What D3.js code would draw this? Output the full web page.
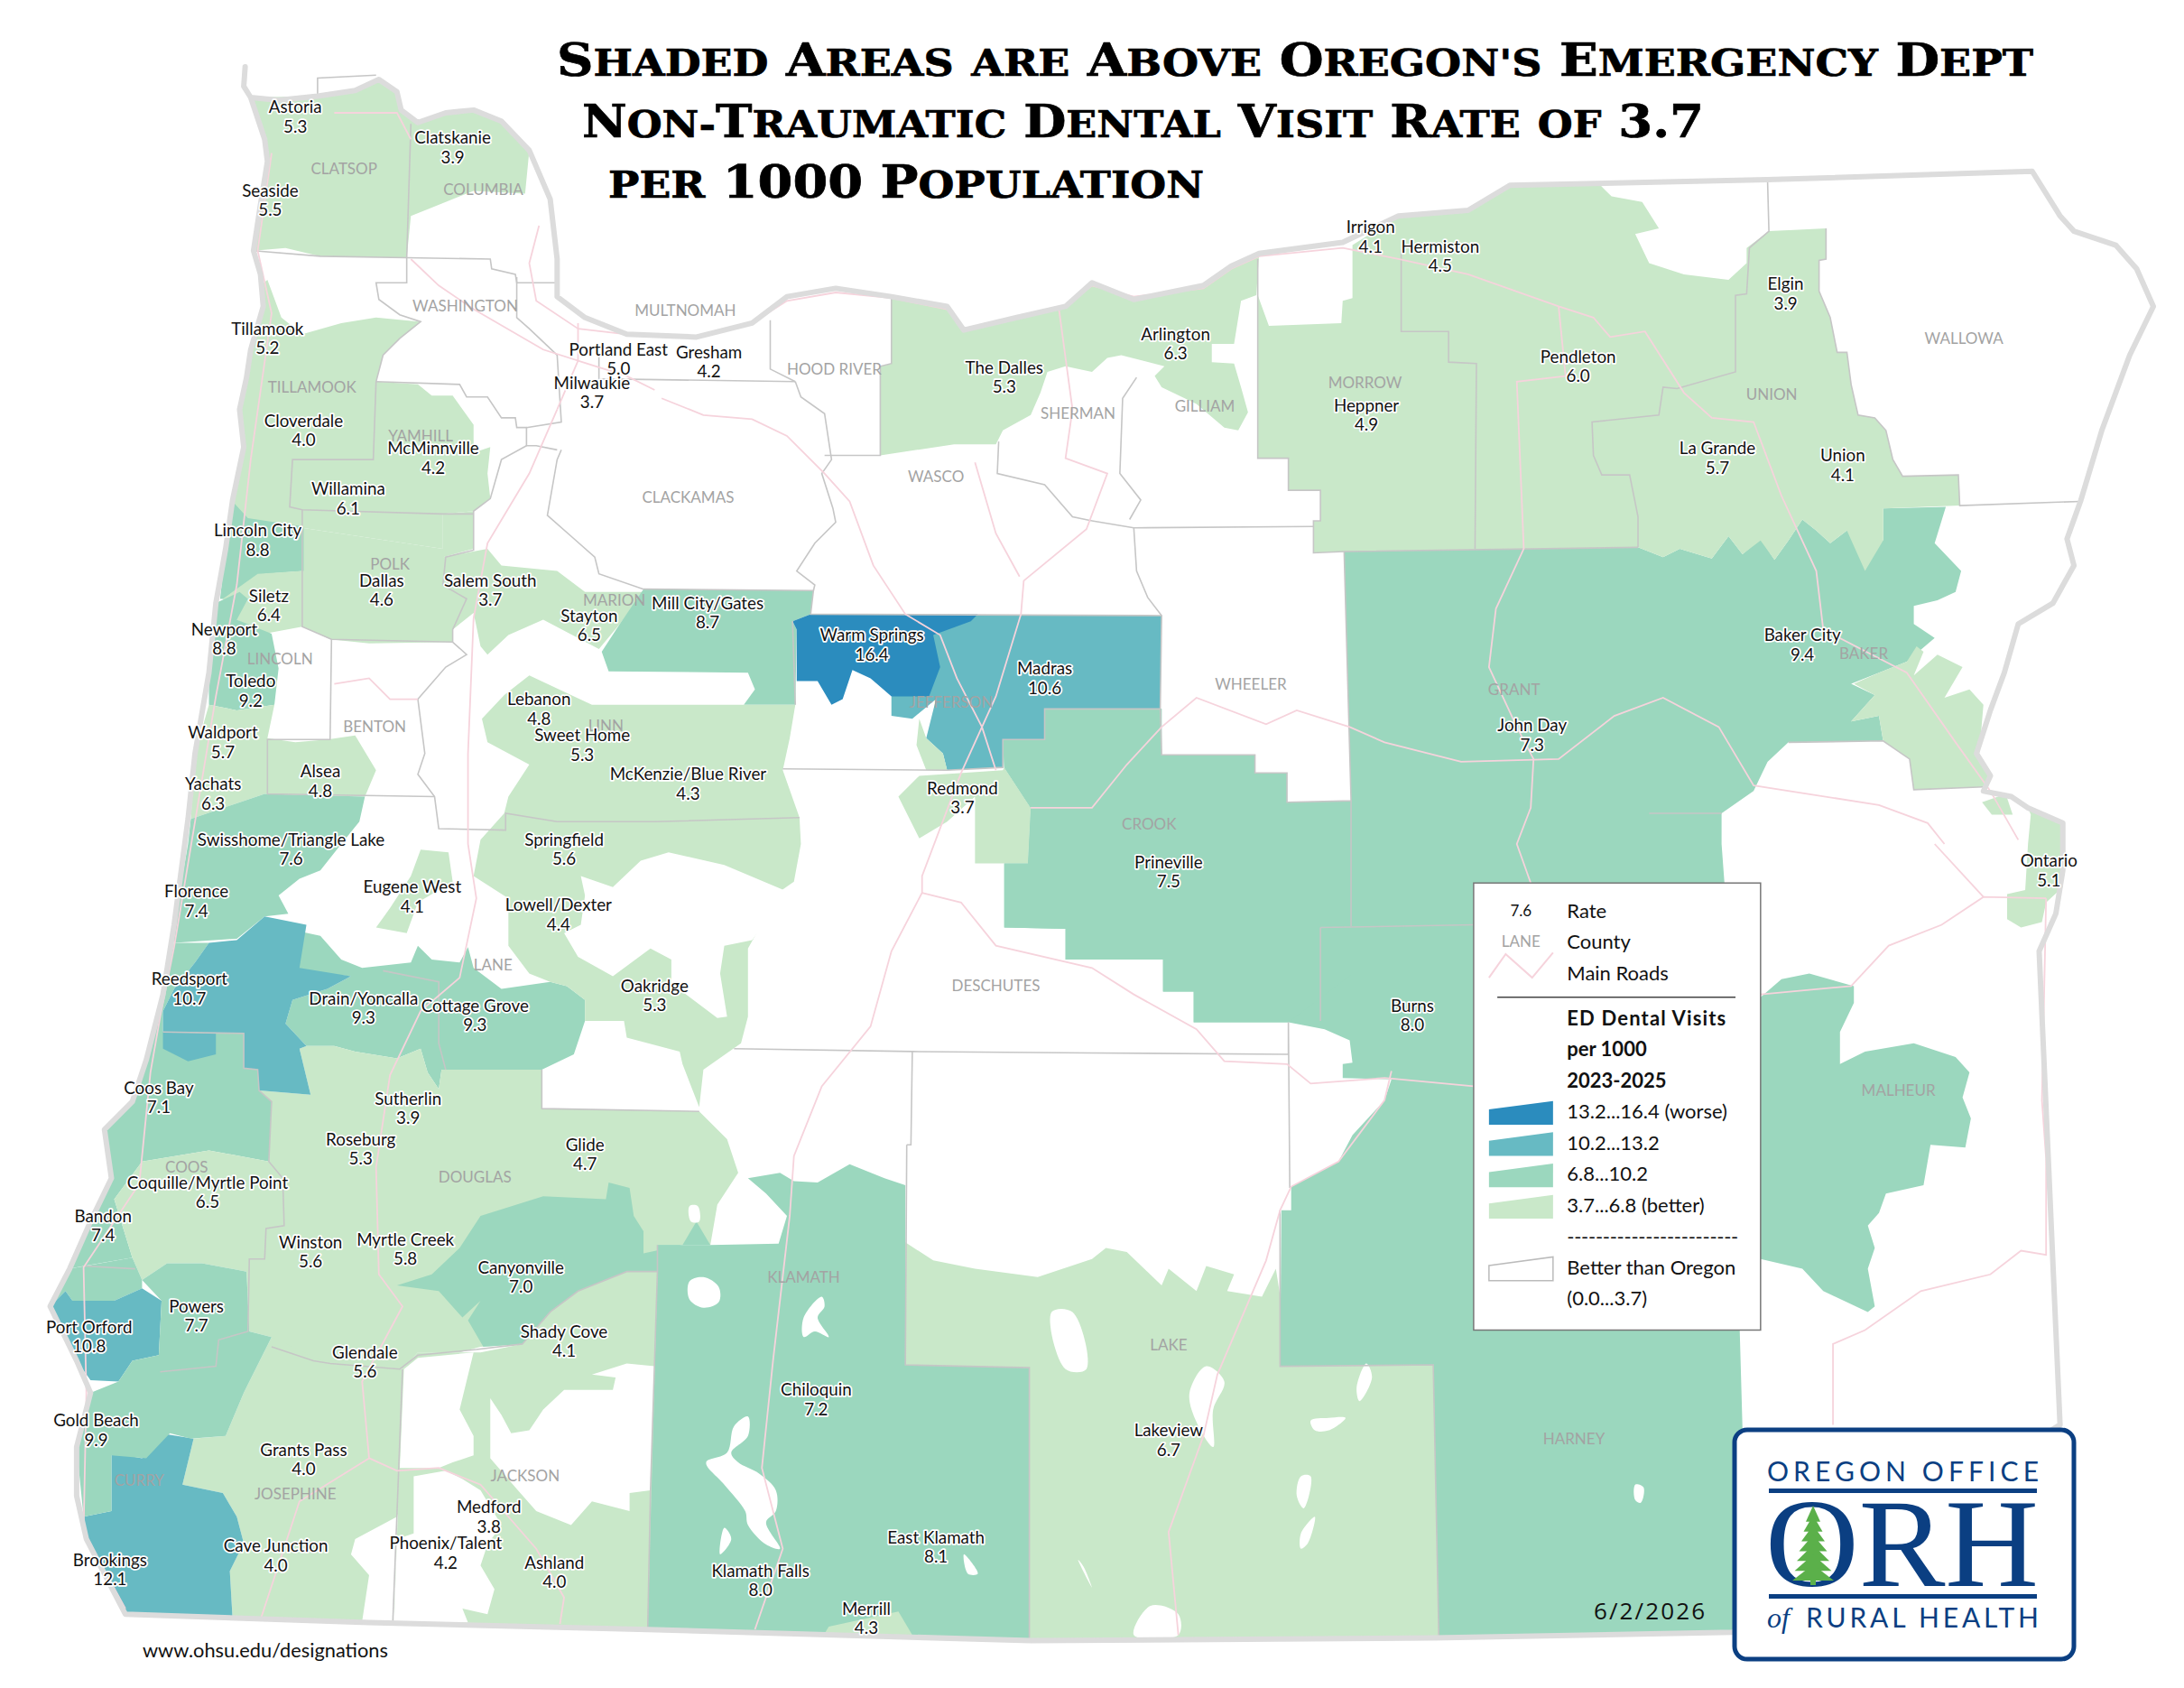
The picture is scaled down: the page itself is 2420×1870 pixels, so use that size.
<!DOCTYPE html>
<html>
<head>
<meta charset="utf-8">
<script src="https://cdn.jsdelivr.net/npm/d3@7"></script>
<style>
body { margin: 0; background: #fff; }
text { font-family: Lato, "Open Sans", sans-serif; }
</style>
</head>
<body>
<svg id="map" width="2420" height="1870"></svg>
<script>
// map units: the sheet is 1568 x 1212 units
var titleLines = ["Shaded Areas are Above Oregon's Emergency Dept", "Non-Traumatic Dental Visit Rate of 3.7", "per 1000 Population"];

var townNames = ["Astoria","Clatskanie","Seaside","Tillamook","Portland East","Gresham","Milwaukie","The Dalles","Arlington","Irrigon","Hermiston","Elgin","Pendleton","Heppner","La Grande","Union","Baker City","John Day","Cloverdale","McMinnville","Willamina","Lincoln City","Siletz","Newport","Dallas","Salem South","Stayton","Mill City/Gates","Warm Springs","Madras","Toledo","Lebanon","Sweet Home","Waldport","Alsea","McKenzie/Blue River","Yachats","Redmond","Springfield","Swisshome/Triangle Lake","Prineville","Eugene West","Florence","Lowell/Dexter","Oakridge","Reedsport","Drain/Yoncalla","Cottage Grove","Burns","Coos Bay","Sutherlin","Roseburg","Glide","Coquille/Myrtle Point","Bandon","Winston","Myrtle Creek","Canyonville","Powers","Port Orford","Shady Cove","Glendale","Chiloquin","Gold Beach","Grants Pass","Lakeview","Medford","East Klamath","Cave Junction","Phoenix/Talent","Brookings","Ashland","Klamath Falls","Merrill","Ontario"];
var townRates = ["5.3","3.9","5.5","5.2","5.0","4.2","3.7","5.3","6.3","4.1","4.5","3.9","6.0","4.9","5.7","4.1","9.4","7.3","4.0","4.2","6.1","8.8","6.4","8.8","4.6","3.7","6.5","8.7","16.4","10.6","9.2","4.8","5.3","5.7","4.8","4.3","6.3","3.7","5.6","7.6","7.5","4.1","7.4","4.4","5.3","10.7","9.3","9.3","8.0","7.1","3.9","5.3","4.7","6.5","7.4","5.6","5.8","7.0","7.7","10.8","4.1","5.6","7.2","9.9","4.0","6.7","3.8","8.1","4.0","4.2","12.1","4.0","8.0","4.3","5.1"];
var townSpots = [[212,77],[325,99],[194,137],[192,236],[444,251],[509,253],[425,275],[721,264],[844,240],[984,163],[1034,177],[1282,204],[1133,256],[981,291],[1233,322],[1323,327],[1294,456],[1100,521],[218,302],[311,322],[250,351],[185,381],[193,428],[161,452],[274,417],[352,417],[423,442],[508,433],[626,456],[750,480],[180,489],[387,502],[418,528],[160,526],[230,554],[494,556],[153,563],[691,566],[405,603],[209,603],[839,619],[296,637],[141,640],[401,650],[470,708],[136,703],[261,717],[341,722],[1014,722],[114,781],[293,789],[259,818],[420,822],[149,849],[74,873],[223,892],[291,890],[374,910],[141,938],[64,953],[405,956],[262,971],[586,998],[69,1020],[218,1041],[839,1027],[351,1082],[672,1104],[198,1110],[320,1108],[79,1120],[398,1122],[546,1128],[622,1155],[1471,618]];

var countyNames = ["CLATSOP","COLUMBIA","WASHINGTON","MULTNOMAH","HOOD RIVER","TILLAMOOK","YAMHILL","CLACKAMAS","WASCO","SHERMAN","GILLIAM","MORROW","UNION","WALLOWA","POLK","MARION","LINCOLN","BENTON","LINN","JEFFERSON","WHEELER","GRANT","BAKER","CROOK","LANE","DESCHUTES","DOUGLAS","COOS","KLAMATH","CURRY","JOSEPHINE","JACKSON","LAKE","HARNEY","MALHEUR"];
var countySpots = [[247,121],[347,136],[334,220],[492,223],[599,265],[224,278],[302,313],[494,357],[672,342],[774,297],[865,292],[980,275],[1272,283],[1410,243],[280,405],[441,431],[201,473],[269,522],[435,521],[683,504],[898,491],[1087,495],[1338,469],[825,592],[354,693],[715,708],[341,845],[134,838],[577,917],[100,1063],[212,1073],[377,1060],[839,966],[1130,1033],[1363,783]];

var legendBreaks = [3.7, 6.8, 10.2, 13.2];
var legendLabels = ["13.2...16.4 (worse)", "10.2...13.2", "6.8...10.2", "3.7...6.8 (better)"];
var legendRates = [16.4, 12.1, 8.8, 5.3];

var stateOutline = [[176,48],[175,62],[180,70],[190,100],[192,116],[187,147],[182,180],[187,197],[189,220],[180,251],[177,271],[172,294],[175,321],[167,359],[162,394],[155,433],[150,483],[140,541],[135,588],[125,664],[117,714],[105,761],[95,791],[75,811],[80,846],[65,877],[50,911],[36,938],[55,977],[65,1000],[55,1039],[55,1074],[62,1105],[90,1159],[265,1165],[465,1170],[740,1178],[1029,1176],[1244,1172],[1479,1023],[1464,683],[1476,656],[1481,625],[1481,591],[1456,580],[1444,572],[1424,568],[1429,557],[1419,541],[1429,510],[1439,483],[1449,448],[1474,433],[1489,406],[1484,387],[1494,359],[1509,309],[1529,255],[1546,220],[1534,193],[1519,176],[1489,166],[1479,155],[1459,123],[1269,129],[1084,133],[1054,151],[1004,155],[964,174],[904,182],[884,191],[864,205],[814,215],[784,203],[765,220],[730,228],[692,237],[680,220],[640,213],[600,207],[565,213],[540,232],[500,242],[450,240],[420,228],[400,213],[400,186],[395,143],[380,108],[360,87],[340,79],[320,81],[300,88],[288,79],[285,66],[272,57],[255,65],[228,69],[200,72],[180,70],[175,62]];

// one ring per shaded zone, the rate sets the colour
var zoneRates = [5.3,5.2,5.2,8.8,6.4,8.8,5.7,7.6,7.1,9.3,6.5,5.6,7.0,4.0,4.1,7.2,4.3,6.7,8.0,5.3,5.7,5.1,5.1,4.8,8.7,10.6,4.1,4.1,7.5,4.1,16.4,10.7,10.7,7.4,10.8,12.1,7.7];
var zoneRings = [
  [[180,70],[190,100],[192,116],[187,147],[182,180],[205,178],[230,184],[292,185],[295,155],[310,149],[340,137],[377,139],[380,108],[360,87],[340,79],[320,81],[300,88],[288,79],[285,66],[272,57],[255,65],[228,69]],
  [[192,201],[202,228],[217,240],[245,232],[270,228],[302,231],[287,243],[275,255],[270,274],[300,276],[310,284],[325,284],[340,305],[340,325],[352,321],[350,340],[352,358],[340,367],[318,369],[318,394],[217,379],[165,371],[167,359],[175,321],[172,294],[177,271],[180,251],[189,220],[187,205]],
  [[318,369],[340,367],[340,394],[318,400],[350,394],[360,406],[400,410],[420,425],[462,425],[445,448],[430,466],[390,445],[365,456],[350,470],[345,464],[340,440],[325,452],[325,461],[265,462],[237,459],[217,450],[217,379],[318,394]],
  [[167,360],[178,372],[218,378],[218,410],[190,412],[185,430],[158,430],[162,394]],
  [[185,412],[217,410],[217,450],[190,455],[170,445],[160,430]],
  [[155,433],[172,425],[178,430],[170,445],[195,455],[200,480],[197,506],[170,510],[150,506],[150,483]],
  [[150,506],[170,510],[197,506],[192,530],[212,533],[235,531],[255,528],[270,553],[262,572],[190,570],[137,588],[140,541]],
  [[137,588],[190,570],[262,572],[258,590],[245,606],[230,625],[215,631],[200,643],[207,656],[190,658],[170,674],[125,677],[125,664],[135,606]],
  [[125,677],[150,677],[140,691],[125,710],[117,726],[117,741],[175,742],[175,767],[185,768],[186,783],[195,791],[193,834],[150,826],[102,834],[82,861],[95,903],[60,909],[50,911],[65,877],[80,846],[75,811],[95,791],[105,761],[117,714]],
  [[212,668],[230,672],[245,689],[260,695],[295,691],[300,679],[310,689],[330,691],[336,680],[340,695],[360,710],[395,705],[407,708],[420,718],[420,733],[412,757],[389,768],[317,768],[315,782],[307,770],[302,753],[285,760],[255,755],[240,751],[220,751],[205,735],[210,718],[235,710],[252,701],[215,697]],
  [[223,786],[215,753],[220,751],[240,751],[255,755],[285,760],[302,753],[307,770],[315,782],[317,768],[389,768],[389,796],[502,798],[522,818],[530,842],[515,865],[510,894],[472,894],[472,913],[450,913],[415,927],[395,942],[375,965],[345,967],[330,971],[300,971],[289,983],[235,979],[195,967],[195,960],[179,956],[177,913],[145,907],[120,907],[102,919],[95,903],[82,861],[102,834],[150,826],[193,834],[195,791],[186,783]],
  [[195,960],[235,979],[289,983],[287,1054],[295,1056],[285,1089],[255,1105],[252,1116],[265,1131],[260,1164],[167,1163],[165,1128],[175,1108],[170,1089],[160,1072],[131,1066],[139,1033],[162,1031],[175,1000]],
  [[285,923],[310,915],[330,896],[345,873],[390,859],[435,861],[437,849],[452,853],[455,873],[462,884],[462,900],[490,894],[500,877],[510,894],[472,894],[472,913],[450,913],[415,927],[395,942],[375,965],[347,967],[336,948],[345,934],[332,946],[315,927]],
  [[289,983],[300,971],[345,971],[375,965],[395,942],[415,927],[450,913],[472,913],[466,1170],[283,1165]],
  [[302,610],[322,612],[325,633],[300,648],[292,670],[270,666],[280,652],[295,629]],
  [[472,894],[510,894],[559,893],[565,873],[550,857],[537,846],[560,842],[570,848],[587,849],[610,836],[635,846],[650,851],[650,980],[739,982],[739,1177],[465,1170],[472,913]],
  [[592,1173],[595,1168],[645,1157],[655,1174]],
  [[650,892],[670,905],[700,911],[745,917],[784,904],[794,896],[809,899],[834,923],[839,911],[859,927],[866,909],[886,915],[881,927],[906,931],[916,911],[920,936],[919,981],[1029,980],[1033,1175],[784,1177],[739,1177],[739,982],[650,980]],
  [[965,396],[1176,393],[1194,400],[1206,394],[1229,401],[1241,385],[1251,398],[1264,387],[1274,402],[1284,388],[1294,373],[1304,381],[1314,390],[1326,381],[1352,388],[1352,365],[1397,364],[1389,390],[1408,410],[1404,425],[1391,431],[1374,435],[1374,448],[1389,458],[1369,475],[1349,483],[1329,491],[1346,499],[1329,518],[1349,514],[1352,532],[1284,533],[1269,547],[1259,568],[1236,584],[1236,606],[1238,633],[1238,700],[1264,716],[1279,703],[1299,699],[1331,708],[1331,720],[1321,741],[1321,764],[1339,755],[1374,749],[1404,759],[1414,770],[1409,788],[1415,803],[1411,824],[1386,822],[1381,851],[1354,857],[1349,871],[1341,880],[1346,896],[1341,911],[1346,938],[1341,942],[1309,927],[1294,911],[1264,904],[1249,954],[1251,1025],[1244,1172],[1033,1175],[1029,980],[919,981],[920,869],[927,869],[927,852],[961,834],[971,815],[994,790],[999,775],[964,774],[964,764],[971,763],[969,747],[951,739],[925,734],[857,734],[857,712],[835,712],[835,689],[765,689],[765,667],[721,666],[721,620],[738,620],[740,580],[721,551],[720,531],[750,531],[750,509],[834,509],[834,542],[901,542],[901,555],[924,555],[924,576],[970,575]],
  [[640,213],[680,220],[692,237],[730,228],[765,220],[784,203],[814,215],[864,205],[884,191],[904,182],[902,212],[891,216],[886,247],[870,247],[870,260],[886,261],[891,278],[896,296],[889,309],[879,307],[859,290],[834,278],[829,270],[836,263],[805,255],[795,257],[784,267],[765,263],[752,267],[747,282],[740,298],[720,309],[715,319],[685,319],[632,327],[632,263],[640,261]],
  [[903,212],[911,234],[963,232],[964,216],[971,214],[971,176],[1004,155],[1054,151],[1084,133],[1149,133],[1157,141],[1179,145],[1191,164],[1174,168],[1184,189],[1209,197],[1241,201],[1254,189],[1254,178],[1270,166],[1311,164],[1311,186],[1306,187],[1306,209],[1314,228],[1319,253],[1326,253],[1329,276],[1334,298],[1346,300],[1354,309],[1359,330],[1366,342],[1406,341],[1407,363],[1352,365],[1352,388],[1339,410],[1326,381],[1314,390],[1304,381],[1294,373],[1284,388],[1274,402],[1264,388],[1251,398],[1241,385],[1229,401],[1206,394],[1194,400],[1176,393],[965,396],[943,397],[943,374],[948,374],[948,352],[925,352],[925,329],[903,329]],
  [[1456,580],[1481,591],[1481,637],[1469,648],[1466,662],[1451,666],[1441,660],[1441,642],[1454,639],[1456,606],[1458,585]],
  [[1423,576],[1440,570],[1445,585],[1430,585]],
  [[1331,491],[1349,483],[1369,475],[1376,464],[1381,468],[1374,485],[1391,470],[1409,479],[1396,501],[1414,495],[1424,506],[1421,541],[1429,557],[1424,565],[1374,567],[1371,545],[1352,532],[1349,514],[1329,518],[1346,499]],
  [[462,423],[584,424],[582,441],[569,446],[572,452],[571,506],[534,506],[542,495],[537,483],[437,482],[432,468],[445,448]],
  [[582,441],[834,442],[833,509],[750,509],[750,531],[720,531],[720,551],[680,553],[677,541],[665,530],[672,502],[655,516],[640,514],[640,500],[672,480]],
  [[660,516],[665,530],[677,541],[680,553],[665,553],[658,535]],
  [[645,572],[660,557],[720,553],[721,551],[740,580],[738,620],[700,620],[700,572],[680,590],[660,602]],
  [[721,551],[740,580],[738,620],[721,620],[721,666],[765,667],[765,689],[835,689],[835,712],[857,712],[857,734],[925,734],[970,700],[970,575],[924,576],[924,555],[901,555],[901,542],[834,542],[834,509],[750,509],[750,531],[720,531]],
  [[346,516],[362,499],[380,485],[410,499],[425,506],[571,506],[567,530],[562,553],[574,587],[575,606],[570,633],[560,640],[537,681],[537,730],[532,749],[505,768],[502,795],[490,764],[488,755],[450,745],[448,733],[420,733],[420,718],[407,708],[395,705],[380,699],[365,679],[365,645],[340,629],[345,603],[362,584],[365,572],[380,549],[350,533]],
  [[582,441],[702,441],[697,446],[670,456],[675,479],[667,500],[640,500],[625,487],[612,481],[605,502],[597,506],[587,489],[572,489],[572,452],[569,446]],
  [[190,658],[220,664],[215,695],[252,701],[235,710],[210,718],[205,735],[220,751],[215,753],[223,786],[186,783],[185,768],[175,767],[175,742],[117,741],[117,726],[125,710],[140,691],[150,677],[170,675]],
  [[117,741],[155,742],[155,757],[135,762],[117,753]],
  [[50,911],[95,903],[102,919],[102,925],[82,934],[52,934],[47,927],[36,938]],
  [[36,938],[47,927],[52,934],[82,934],[102,925],[116,934],[114,973],[95,977],[85,992],[65,991],[55,977]],
  [[80,1043],[102,1047],[115,1029],[139,1033],[131,1066],[160,1072],[170,1089],[175,1108],[165,1128],[167,1163],[90,1159],[62,1105],[60,1089],[80,1085]],
  [[102,919],[120,907],[145,907],[177,913],[179,956],[195,960],[175,1000],[162,1031],[137,1033],[122,1029],[105,1047],[80,1045],[80,1085],[60,1089],[55,1039],[65,1000],[85,992],[95,977],[114,973],[116,934]]
];

// unshaded pockets cut out of the zones
var holeRings = [
  [[352,1004],[360,1016],[367,1029],[380,1027],[390,1012],[405,998],[440,998],[442,989],[425,987],[450,979],[470,981],[467,1070],[452,1072],[452,1085],[425,1078],[410,1095],[385,1085],[370,1068],[352,1047]],
  [[290,983],[300,975],[340,971],[330,1012],[340,1031],[340,1045],[325,1050],[315,1054],[300,1054],[287,1054]],
  [[297,1060],[320,1056],[332,1062],[345,1070],[360,1095],[350,1109],[345,1124],[355,1141],[350,1159],[332,1155],[336,1165],[283,1165],[285,1105],[297,1101]],
  [[417,629],[420,643],[417,664],[405,670],[415,687],[440,701],[467,681],[482,689],[482,706],[515,731],[522,730],[517,699],[520,679],[540,675],[565,640],[520,621],[480,612],[460,618],[440,637]]
];
var lakeRings = [
  [[495,920],[505,917],[516,924],[516,935],[505,939],[495,933]],
  [[590,931],[592,938],[587,946],[595,960],[585,956],[577,960],[577,946]],
  [[537,1017],[537,1031],[525,1043],[530,1050],[545,1058],[557,1070],[557,1085],[550,1093],[560,1112],[550,1109],[537,1095],[535,1085],[520,1066],[507,1050],[522,1043],[527,1024]],
  [[520,1097],[525,1105],[517,1116]],
  [[692,1116],[702,1130],[695,1130]],
  [[755,942],[770,942],[780,983],[765,983]],
  [[866,981],[879,992],[871,1012],[871,1039],[859,1021],[854,1000]],
  [[981,979],[985,989],[976,1006],[974,996]],
  [[941,1020],[954,1018],[966,1018],[954,1027],[944,1027]],
  [[934,1060],[941,1060],[936,1083],[931,1074]],
  [[944,1089],[939,1108],[934,1112],[934,1101]],
  [[814,1174],[826,1153],[846,1159],[846,1174]],
  [[1174,1066],[1180,1068],[1178,1079],[1174,1077]],
  [[774,1120],[784,1140],[778,1125]],
  [[495,866],[501,866],[502,877],[496,877]]
];

var countyLines = [
  [[228,69],[228,56],[270,54]],
  [[295,89],[292,185]],
  [[182,180],[230,184],[292,185],[352,186],[353,193],[370,197],[371,203],[400,203]],
  [[292,185],[292,203],[270,203],[272,215],[287,226],[302,231],[287,243],[275,255],[270,274],[268,330],[210,330],[208,364],[217,366],[318,369],[340,369]],
  [[270,274],[330,276],[335,285],[350,285],[360,300],[370,300],[371,307],[378,307],[378,320],[385,320],[400,323]],
  [[371,199],[371,228],[380,236],[400,255],[403,303],[378,307]],
  [[217,366],[217,450],[238,459],[325,461]],
  [[238,459],[237,531],[192,531],[192,570],[312,572]],
  [[430,256],[430,272],[571,274]],
  [[553,230],[553,265],[571,274]],
  [[640,214],[640,261],[632,263],[632,327],[592,327]],
  [[571,274],[575,285],[592,297],[597,330],[590,340],[598,365],[600,375],[585,390],[572,410],[585,420],[584,424]],
  [[403,323],[400,330],[393,370],[410,385],[427,400],[430,412],[462,423],[584,424],[582,441],[834,442]],
  [[378,320],[360,330],[352,358],[340,367],[340,395],[320,400],[318,420],[335,430],[325,452],[325,461],[335,470],[320,479],[300,502],[305,541],[300,556],[312,572],[315,595],[363,596],[363,584],[400,590],[470,590],[574,587]],
  [[562,552],[680,553],[720,551],[720,531],[750,531],[750,509],[833,509]],
  [[571,506],[569,446]],
  [[275,697],[315,705],[315,749],[320,768]],
  [[117,741],[175,742],[175,767],[185,768],[186,783],[195,791],[193,834],[203,846],[204,880],[191,882],[190,904],[179,904],[178,956],[157,962],[155,981],[115,985]],
  [[60,909],[97,911]],
  [[195,967],[225,977],[237,979],[287,983],[300,973],[342,969],[375,965],[395,942],[415,927],[450,913],[472,913]],
  [[472,894],[472,913],[467,1070],[465,1170]],
  [[289,983],[282,1165]],
  [[651,822],[650,980],[739,982],[739,1177]],
  [[527,753],[655,755],[784,756],[925,757],[925,734],[926,853]],
  [[655,755],[654,822],[651,822]],
  [[389,768],[389,796],[502,798]],
  [[784,374],[814,379],[943,378]],
  [[814,379],[816,410],[824,429],[834,442],[833,509],[834,542],[901,542],[901,555],[924,555],[924,576],[970,575],[965,396]],
  [[816,271],[806,286],[804,340],[819,359],[811,373]],
  [[717,317],[716,340],[750,348],[770,371],[784,374]],
  [[903,186],[903,329],[925,329],[925,352],[948,352],[948,374],[943,374],[943,397],[965,396],[1176,393]],
  [[1006,179],[1006,238],[1040,238],[1040,260],[1060,261],[1059,394]],
  [[1269,129],[1270,166],[1256,178],[1254,211],[1246,212],[1246,267],[1204,279],[1194,278],[1191,298],[1143,303],[1144,327],[1150,341],[1170,341],[1176,371],[1176,393]],
  [[1311,164],[1311,186],[1306,187],[1306,209],[1314,228],[1319,253],[1326,253],[1329,276],[1334,298],[1346,300],[1354,309],[1359,330],[1366,342],[1406,341],[1407,363],[1494,360]],
  [[1284,533],[1352,532],[1371,545],[1374,567],[1424,565]],
  [[948,666],[1058,664]],
  [[948,666],[948,733]],
  [[970,575],[970,665]],
  [[1184,584],[1236,584]],
  [[919,869],[919,981],[1029,980],[1033,1175]]
];

var roadLines = [
  [[195,110],[185,180],[195,225],[180,330],[170,420],[155,500],[140,590],[125,680],[115,730],[108,770],[100,850],[60,910],[62,1000],[60,1100],[90,1155]],
  [[400,294],[380,340],[350,390],[340,444],[336,541],[336,606],[342,645],[330,702],[302,726],[280,772],[270,838],[272,915],[289,938],[260,992],[265,1047],[285,1056],[315,1054],[345,1066],[385,1112],[405,1147],[402,1166]],
  [[240,81],[285,81],[295,100]],
  [[295,186],[315,205],[340,222],[390,251],[415,259],[415,232]],
  [[387,162],[380,189],[385,216],[415,236]],
  [[400,294],[415,259],[450,270],[470,280]],
  [[415,236],[450,240],[500,242],[540,232],[565,216],[600,210],[640,214],[680,222],[692,236],[730,228],[765,220],[784,205],[814,213],[864,207],[884,193],[904,184],[964,178],[1004,186],[1054,197],[1119,220],[1144,228],[1156,242],[1181,238],[1209,282],[1229,300],[1259,303],[1279,356],[1304,410],[1309,452],[1369,483],[1404,533],[1429,568],[1449,603]],
  [[475,286],[505,298],[540,301],[565,313],[592,340],[610,360],[627,406],[650,441],[675,456],[687,487],[705,522],[715,553]],
  [[760,220],[770,294],[765,329],[795,340],[780,380],[735,417],[733,441],[715,500],[690,555],[662,629],[662,641],[640,683],[625,737],[590,780],[570,830],[567,873],[555,977],[547,1054],[562,1112],[542,1170]],
  [[662,641],[690,648],[715,679],[784,695],[814,714],[859,739],[879,762],[924,764],[941,778],[994,774],[1058,780]],
  [[1264,714],[1329,708],[1356,679],[1394,664],[1424,644],[1469,645]],
  [[1389,606],[1424,644]],
  [[740,580],[784,580],[809,549],[834,522],[859,501],[909,520],[931,510],[969,522],[994,533],[1049,547],[1119,545],[1159,514],[1194,501],[1234,522],[1259,564],[1349,578],[1384,591],[1396,606]],
  [[1124,270],[1119,220]],
  [[1124,270],[1089,274],[1094,394],[1074,437],[1069,479],[1089,522],[1101,545],[1099,580],[1089,606],[1099,634]],
  [[999,769],[994,790],[961,834],[927,852],[919,869],[909,905],[874,987],[864,1031],[839,1100],[846,1174]],
  [[1316,1023],[1316,965],[1339,955],[1379,927],[1429,915],[1451,898],[1469,901],[1469,832],[1466,790]],
  [[1469,645],[1466,790]],
  [[265,1047],[215,1078],[187,1163]],
  [[700,332],[715,383],[732,414]],
  [[240,491],[265,487],[280,502],[300,502]]
];

var legendGeomSwatch = [[0,0.36],[1,0],[1,1],[0,1]];
var sx = d3.scaleLinear().domain([0,1568]).range([0,2420]);
var sy = d3.scaleLinear().domain([0,1212]).range([0,1870]);
var fillFor = d3.scaleThreshold().domain(legendBreaks).range(["#ffffff","#c9e8c9","#9bd7be","#67bac3","#2b8cbe"]);
var ringPath = d3.line().x(function(d){ return sx(d[0]); }).y(function(d){ return sy(d[1]); }).curve(d3.curveLinearClosed);
var softRing = d3.line().x(function(d){ return sx(d[0]); }).y(function(d){ return sy(d[1]); }).curve(d3.curveCatmullRomClosed.alpha(0.5));
var linePath = d3.line().x(function(d){ return sx(d[0]); }).y(function(d){ return sy(d[1]); });
var svg = d3.select("#map");

// title
function drawTitle(line, x, y, width){
  var t = svg.append("text").attr("x", x).attr("y", y).attr("textLength", width).attr("lengthAdjust", "spacingAndGlyphs")
    .style("font-family", "'DejaVu Serif'").style("font-weight", "bold").attr("fill", "#000").attr("stroke", "#000").attr("stroke-width", 0.7);
  var runs = line.match(/[a-z'\-]+|[^a-z'\-]+/g);
  runs.forEach(function(r){
    var small = /[a-z]/.test(r);
    t.append("tspan").text(r).style("font-size", small ? "41px" : "50px").style("text-transform", small ? "uppercase" : "none");
  });
}
drawTitle(titleLines[0], 617, 84, 1636);
drawTitle(titleLines[1], 645, 152, 1243);
drawTitle(titleLines[2], 674, 219, 660);

// zones, pockets, lines
svg.append("g").selectAll("path").data(zoneRings).join("path")
  .attr("d", ringPath).attr("fill", function(d,i){ return fillFor(zoneRates[i]); });
svg.append("g").selectAll("path").data(holeRings).join("path")
  .attr("d", ringPath).attr("fill", "#fff");
svg.append("g").selectAll("path").data(lakeRings).join("path")
  .attr("d", softRing).attr("fill", "#fff");
svg.append("g").selectAll("path").data(countyLines).join("path")
  .attr("d", linePath).attr("fill", "none").attr("stroke", "#c6c6c6").attr("stroke-width", 1.6);
svg.append("g").selectAll("path").data(roadLines).join("path")
  .attr("d", linePath).attr("fill", "none").attr("stroke", "#f6d3dc").attr("stroke-width", 1.8);
svg.append("path").datum(stateOutline).attr("d", ringPath).attr("fill", "none").attr("stroke", "#dcdcdc").attr("stroke-width", 6).attr("stroke-linejoin", "round");

// labels
function halo(sel){
  sel.attr("paint-order", "stroke").attr("stroke", "#fff").attr("stroke-width", 3.5).attr("stroke-linejoin", "round");
}
svg.append("g").selectAll("text").data(countyNames).join("text")
  .text(function(d){ return d; })
  .attr("x", function(d,i){ return sx(countySpots[i][0]); })
  .attr("y", function(d,i){ return sy(countySpots[i][1]); })
  .attr("dy", "0.35em").attr("text-anchor", "middle").attr("fill", "#a3a3a3").style("font-size", "17px");
var townG = svg.append("g").selectAll("g").data(townNames).join("g");
townG.append("text").text(function(d){ return d; })
  .attr("x", function(d,i){ return sx(townSpots[i][0]); })
  .attr("y", function(d,i){ return sy(townSpots[i][1]); })
  .attr("dy", "0.35em").attr("text-anchor", "middle").attr("fill", "#111").style("font-size", "18.8px").call(halo);
townG.append("text").text(function(d,i){ return townRates[i]; })
  .attr("x", function(d,i){ return sx(townSpots[i][0]); })
  .attr("y", function(d,i){ return sy(townSpots[i][1]) + 21.5; })
  .attr("dy", "0.35em").attr("text-anchor", "middle").attr("fill", "#111").style("font-size", "18.8px").call(halo);

// legend
var lg = svg.append("g");
lg.append("rect").attr("x", sx(1058)).attr("y", sy(634)).attr("width", sx(206)).attr("height", sy(321)).attr("fill", "#fff").attr("stroke", "#777").attr("stroke-width", 1.5);
function legendText(str, y, bold){
  return lg.append("text").text(str).attr("x", sx(1125)).attr("y", sy(y)).attr("dy", "0.35em").attr("fill", "#111")
    .style("font-size", "22px").style("font-weight", bold ? "bold" : "normal");
}
lg.append("text").text("7.6").attr("x", sx(1092)).attr("y", sy(654)).attr("dy", "0.35em").attr("text-anchor", "middle").attr("fill", "#111").style("font-size", "17px");
lg.append("text").text("LANE").attr("x", sx(1092)).attr("y", sy(676)).attr("dy", "0.35em").attr("text-anchor", "middle").attr("fill", "#a3a3a3").style("font-size", "17px");
legendText("Rate", 654);
legendText("County", 676);
legendText("Main Roads", 699);
lg.append("path").datum([[1069,702],[1081,685],[1100,702],[1115,684]]).attr("d", linePath).attr("fill", "none").attr("stroke", "#f6d3dc").attr("stroke-width", 2);
lg.append("line").attr("x1", sx(1075)).attr("x2", sx(1246)).attr("y1", sy(716)).attr("y2", sy(716)).attr("stroke", "#444").attr("stroke-width", 1.5);
legendText("ED Dental Visits", 731, true).attr("textLength", 176);
legendText("per 1000", 753, true);
legendText("2023-2025", 776, true);
var swX = d3.scaleLinear().domain([0,1]).range([1069,1115]);
var swY = d3.scaleLinear().domain([0,1]).range([0,17]);
function swatch(cy, fill, stroke){
  lg.append("path").datum(legendGeomSwatch.map(function(p){ return [swX(p[0]), cy - 8.5 + swY(p[1])]; }))
    .attr("d", ringPath).attr("fill", fill).attr("stroke", stroke).attr("stroke-width", stroke == "none" ? 0 : 1.5);
}
legendLabels.forEach(function(s,i){
  var cy = sy.invert(sy(798) + i * 34.7);
  swatch(cy + 1, fillFor(legendRates[i]), "none");
  legendText(s, cy);
});
legendText("------------------------", 888).attr("textLength", 190);
swatch(911, "#fff", "#bbb");
legendText("Better than Oregon", 910);
legendText("(0.0...3.7)", 932);

// footer
svg.append("text").text("www.ohsu.edu/designations").attr("x", 158).attr("y", 1828).attr("dy", "0.35em").attr("fill", "#111").style("font-size", "21.8px");
svg.append("text").text("6/2/2026").attr("x", 1766).attr("y", 1785).attr("dy", "0.35em").attr("fill", "#111").style("font-size", "26px").style("font-family", "'Open Sans'").attr("textLength", 123);

// ORH logo
var navy = "#0b3f82";
var logo = svg.append("g");
logo.append("rect").attr("x", 1922).attr("y", 1584).attr("width", 376).attr("height", 254).attr("rx", 14).attr("fill", "#fff").attr("stroke", navy).attr("stroke-width", 5);
logo.append("text").text("OREGON OFFICE").attr("x", 1958).attr("y", 1641).attr("textLength", 301).attr("fill", navy).style("font-size", "30px").style("font-weight", "400");
logo.append("rect").attr("x", 1960).attr("y", 1649).attr("width", 297).attr("height", 5).attr("fill", navy);
logo.append("text").text("ORH").attr("x", 1956).attr("y", 1757).attr("textLength", 303).attr("lengthAdjust", "spacingAndGlyphs").attr("fill", navy)
  .style("font-family", "'Liberation Serif'").style("font-size", "140px");
logo.append("rect").attr("x", 1960).attr("y", 1766).attr("width", 297).attr("height", 5).attr("fill", navy);
logo.append("text").text("of").attr("x", 1958).attr("y", 1803).attr("fill", navy).style("font-family", "'Liberation Serif'").style("font-style", "italic").style("font-size", "32px");
logo.append("text").text("RURAL HEALTH").attr("x", 2001).attr("y", 1803).attr("textLength", 258).attr("fill", navy).style("font-size", "30px").style("font-weight", "400");
// tree inside the O
var treeLevels = [0, 1, 2, 3, 4, 5, 6];
var treeY = d3.scaleLinear().domain([0,7]).range([1672,1748]);
var treeW = d3.scaleLinear().domain([0,6]).range([8,23]);
logo.selectAll("path.tree").data(treeLevels).join("path").attr("class", "tree")
  .attr("d", function(k){ return "M2009," + (treeY(k) - 4) + "L" + (2009 + treeW(k)) + "," + (treeY(k + 1) + 3) + "L" + (2009 - treeW(k)) + "," + (treeY(k + 1) + 3) + "Z"; })
  .attr("fill", "#5bb04a");
logo.append("rect").attr("x", 2006).attr("y", 1748).attr("width", 6).attr("height", 8).attr("fill", "#5bb04a");
</script>
</body>
</html>
